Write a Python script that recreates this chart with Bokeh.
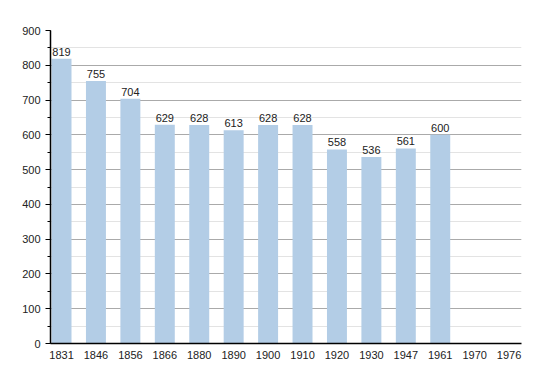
from bokeh.plotting import figure
from bokeh.models import ColumnDataSource, Range1d, FixedTicker, SingleIntervalTicker
from bokeh.core.properties import value
from bokeh.embed import file_html
from bokeh.resources import INLINE

years = ["1831", "1846", "1856", "1866", "1880", "1890", "1900", "1910",
         "1920", "1930", "1947", "1961", "1970", "1976"]
population = [819, 755, 704, 629, 628, 613, 628, 628, 558, 536, 561, 600, None, None]

xs = list(range(len(years)))
bx = [x for x, v in zip(xs, population) if v is not None]
bv = [v for v in population if v is not None]
src = ColumnDataSource(dict(x=bx, top=bv, label=[str(v) for v in bv]))

FONT = "Liberation Sans"

p = figure(width=542, height=365, output_backend="svg", toolbar_location=None,
           x_range=Range1d(-0.32, len(years) - 1 + 0.36), y_range=Range1d(0, 900),
           min_border_left=50, min_border_right=21, min_border_top=30, min_border_bottom=22)
p.outline_line_color = None
p.background_fill_color = "white"

p.vbar(x="x", top="top", width=0.58, source=src, fill_color="#b3cde6", line_color=None)
p.text(x="x", y="top", text="label", source=src, text_align="center", text_baseline="bottom",
       y_offset=-3, text_font=value(FONT), text_font_size="11px", text_color="#222222")

# x axis
p.xaxis.ticker = FixedTicker(ticks=xs)
p.xaxis.major_label_overrides = {i: y for i, y in enumerate(years)}
p.xaxis.major_tick_line_color = None
p.xaxis.minor_tick_line_color = None
p.xaxis.axis_line_color = "black"
p.xaxis.axis_line_width = 1.5
p.xaxis.major_label_text_font = FONT
p.xaxis.major_label_text_font_size = "11px"
p.xaxis.major_label_text_color = "#222222"
p.xaxis.major_label_standoff = 1

# y axis
p.yaxis.ticker = SingleIntervalTicker(interval=100, num_minor_ticks=2)
p.yaxis.axis_line_color = "black"
p.yaxis.axis_line_width = 1.5
p.yaxis.major_tick_line_color = "black"
p.yaxis.major_tick_out = 5
p.yaxis.major_tick_in = 0
p.yaxis.minor_tick_line_color = "black"
p.yaxis.minor_tick_out = 3
p.yaxis.minor_tick_in = 0
p.yaxis.major_label_text_font = FONT
p.yaxis.major_label_text_font_size = "11px"
p.yaxis.major_label_text_color = "#222222"
p.yaxis.major_label_standoff = 5

p.xgrid.grid_line_color = None
p.ygrid.grid_line_color = "#aaaaaa"
p.ygrid.grid_line_width = 1
p.ygrid.minor_grid_line_color = "#e3e3e3"
p.ygrid.level = "underlay"

open("out.html", "w").write(file_html(p, INLINE))
